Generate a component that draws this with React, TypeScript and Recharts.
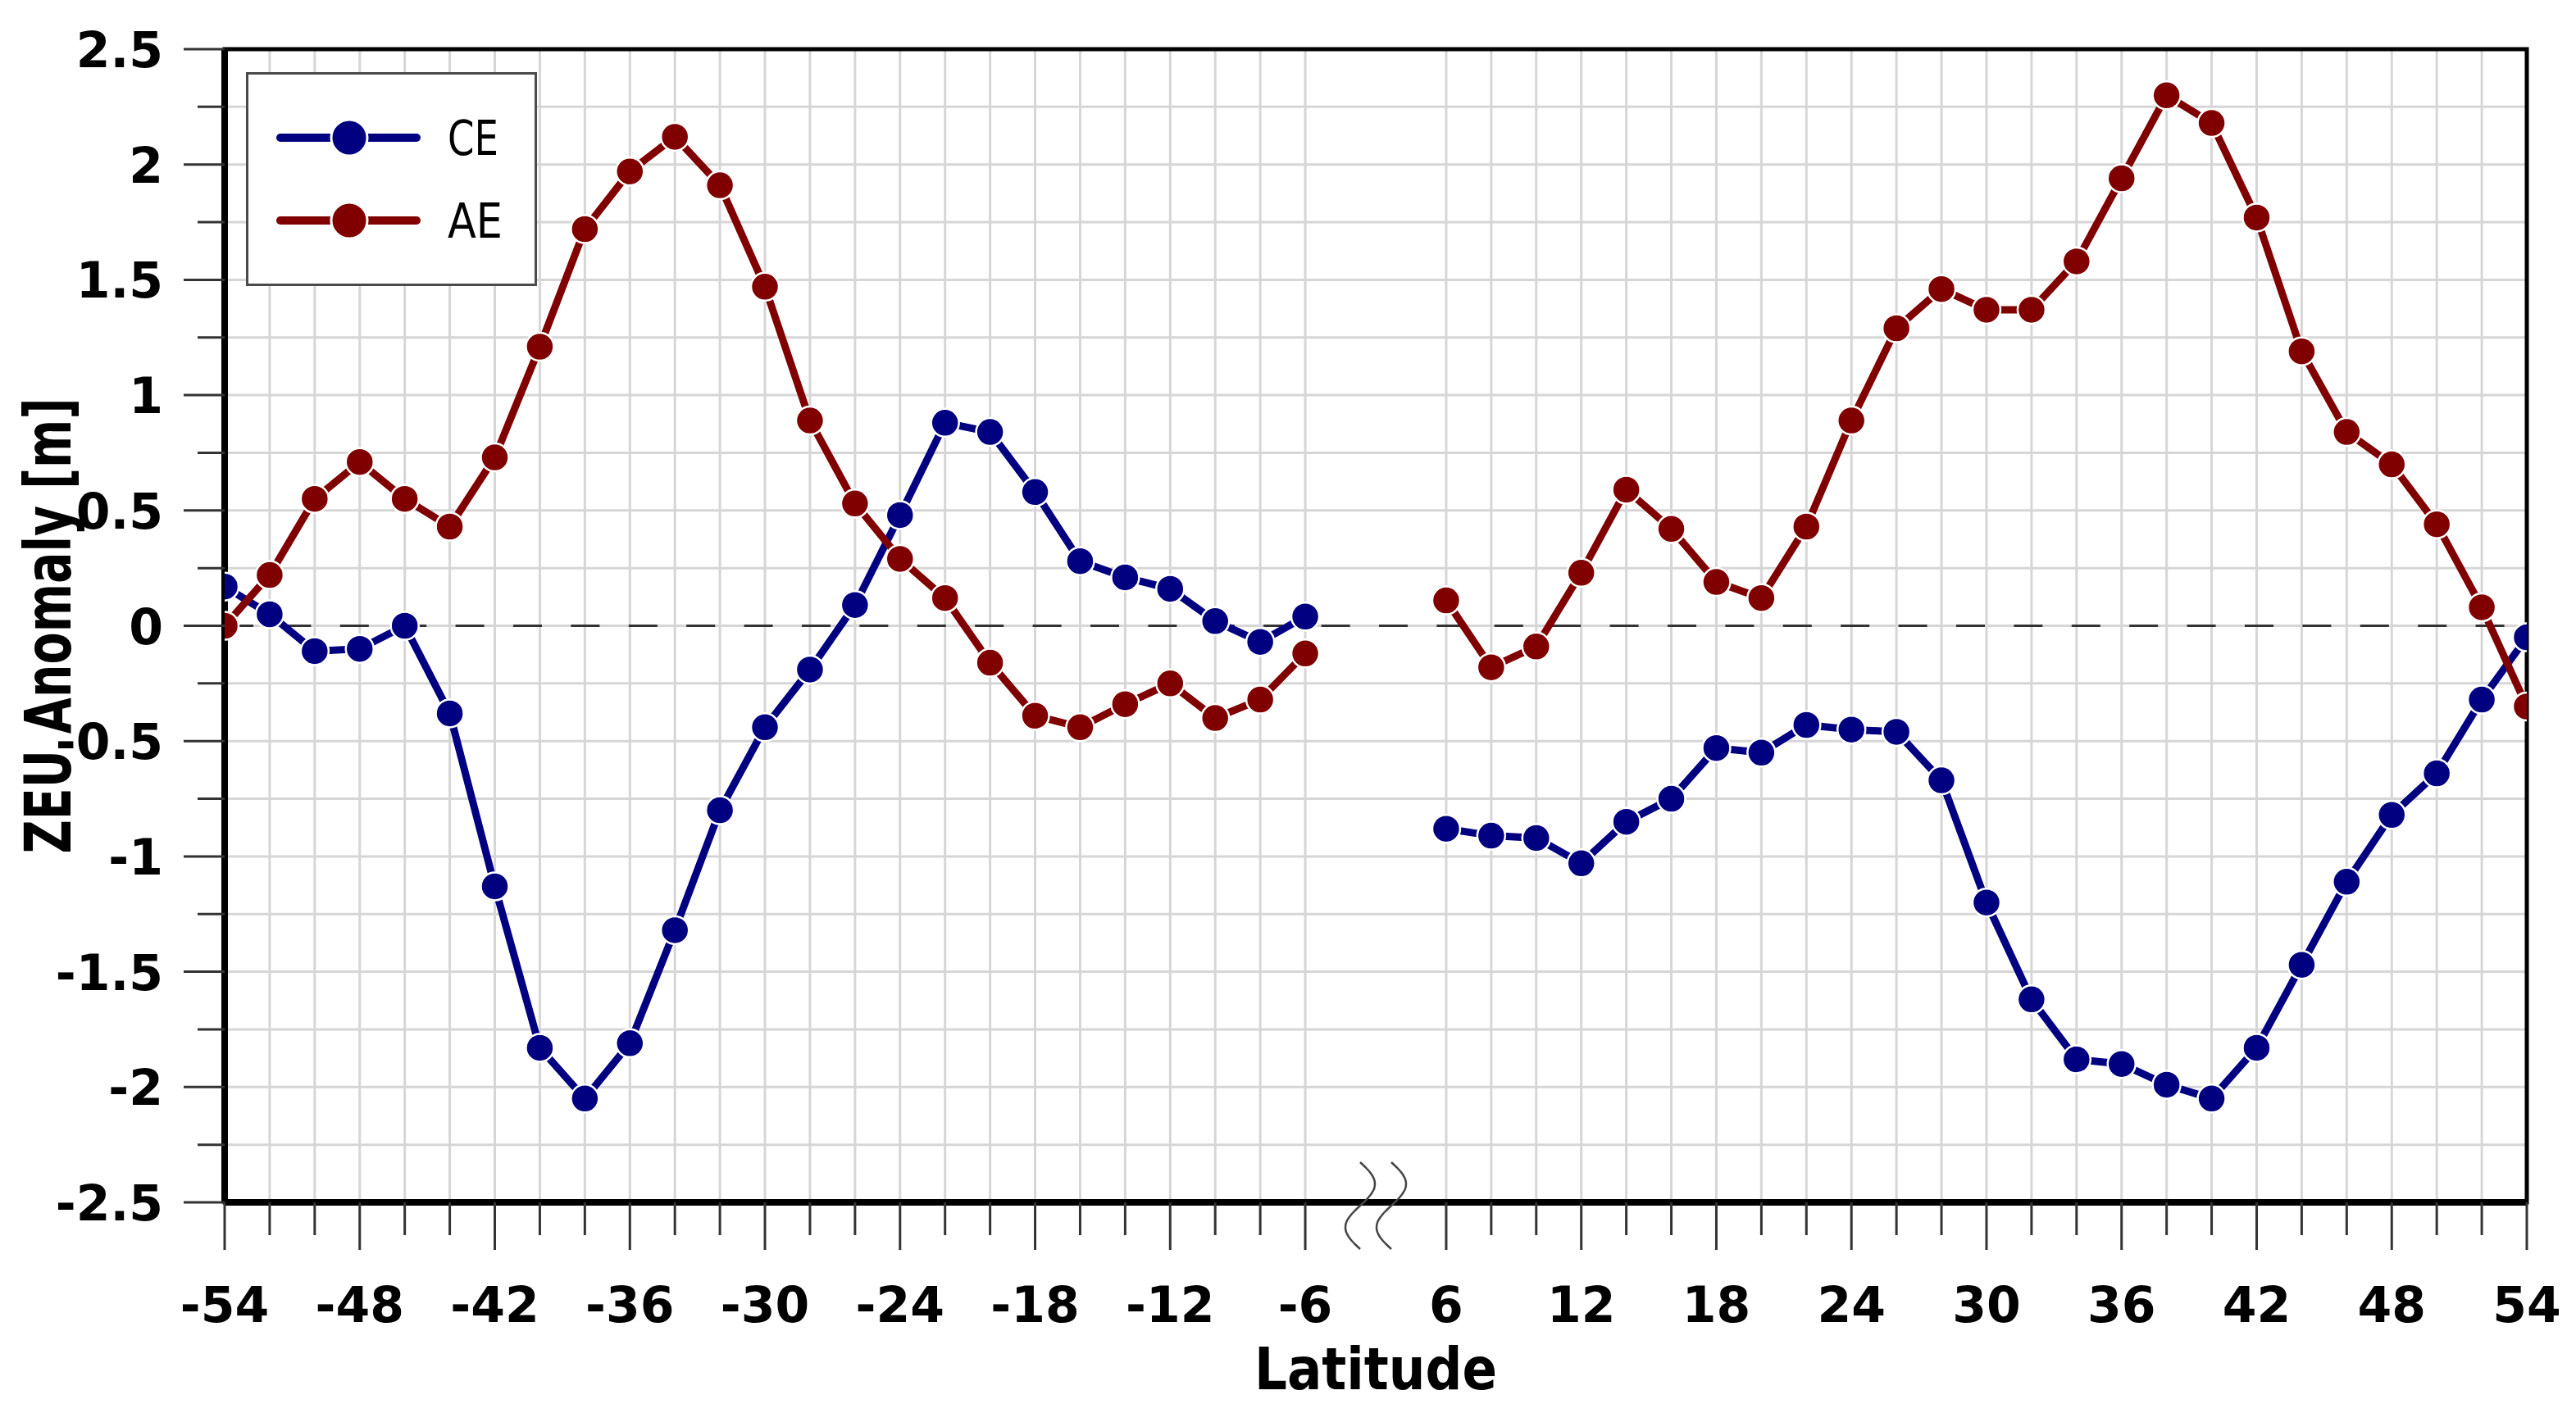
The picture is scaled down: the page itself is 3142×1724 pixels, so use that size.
import React from "react";
import {
  LineChart,
  Line,
  XAxis,
  YAxis,
  CartesianGrid,
  ReferenceLine,
  ReferenceArea,
  ReferenceDot,
  Label,
} from "recharts";

// latitudes, 2 degree steps, south and north of the axis break
const southLat = [-54, -52, -50, -48, -46, -44, -42, -40, -38, -36, -34, -32, -30, -28, -26, -24, -22, -20, -18, -16, -14, -12, -10, -8, -6];
const northLat = [6, 8, 10, 12, 14, 16, 18, 20, 22, 24, 26, 28, 30, 32, 34, 36, 38, 40, 42, 44, 46, 48, 50, 52, 54];

// ZEU anomaly [m]
const ceSouth = [0.17, 0.05, -0.11, -0.1, 0.0, -0.38, -1.13, -1.83, -2.05, -1.81, -1.32, -0.8, -0.44, -0.19, 0.09, 0.48, 0.88, 0.84, 0.58, 0.28, 0.21, 0.16, 0.02, -0.07, 0.04];
const aeSouth = [0.0, 0.22, 0.55, 0.71, 0.55, 0.43, 0.73, 1.21, 1.72, 1.97, 2.12, 1.91, 1.47, 0.89, 0.53, 0.29, 0.12, -0.16, -0.39, -0.44, -0.34, -0.25, -0.4, -0.32, -0.12];
const ceNorth = [-0.88, -0.91, -0.92, -1.03, -0.85, -0.75, -0.53, -0.55, -0.43, -0.45, -0.46, -0.67, -1.2, -1.62, -1.88, -1.9, -1.99, -2.05, -1.83, -1.47, -1.11, -0.82, -0.64, -0.32, -0.05];
const aeNorth = [0.11, -0.18, -0.09, 0.23, 0.59, 0.42, 0.19, 0.12, 0.43, 0.89, 1.29, 1.46, 1.37, 1.37, 1.58, 1.94, 2.3, 2.18, 1.77, 1.19, 0.84, 0.7, 0.44, 0.08, -0.35];

const yTicks = [2.5, 2.25, 2, 1.75, 1.5, 1.25, 1, 0.75, 0.5, 0.25, 0, -0.25, -0.5, -0.75, -1, -1.25, -1.5, -1.75, -2, -2.25, -2.5];

const CE_COLOR = "#000080";
const AE_COLOR = "#800000";
const FONT = "'DejaVu Sans', sans-serif";

// the break between -6 and 6 is drawn about 6.26 degrees wide
const GAP = 6.26;
const NORTH_SHIFT = 12 - GAP;
const toPos = (lat: number) => (lat < 0 ? lat : lat - NORTH_SHIFT);
const toLat = (pos: number) => Math.round(pos <= -6 ? pos : pos + NORTH_SHIFT);
const X_MIN = toPos(-54);
const X_MAX = toPos(54);
const BREAK_POS = (toPos(-6) + toPos(6)) / 2;

const rows = [
  ...southLat.map((lat, i) => ({ pos: toPos(lat), ce: ceSouth[i], ae: aeSouth[i] })),
  { pos: BREAK_POS, ce: null, ae: null },
  ...northLat.map((lat, i) => ({ pos: toPos(lat), ce: ceNorth[i], ae: aeNorth[i] })),
];
const xTicks = [...southLat, ...northLat].map(toPos);

function XTick(props: any) {
  const { x, y, payload } = props;
  const lat = toLat(payload.value);
  const major = lat % 6 === 0;
  return (
    <g>
      <line x1={x} x2={x} y1={y} y2={y + (major ? 58 : 40)} stroke="#333" strokeWidth={3} />
      {major && (
        <text x={x} y={y + 146} textAnchor="middle" fontFamily={FONT} fontWeight="bold" fontSize={60} fill="#000">
          {lat}
        </text>
      )}
    </g>
  );
}

function YTick(props: any) {
  const { x, y, payload } = props;
  const v = payload.value;
  const major = Math.abs(v * 2 - Math.round(v * 2)) < 1e-6;
  return (
    <g>
      <line x1={x} x2={x - (major ? 50 : 33)} y1={y} y2={y} stroke="#333" strokeWidth={3} />
      {major && (
        <text x={x - 75} y={y + 22} textAnchor="end" fontFamily={FONT} fontWeight="bold" fontSize={60} fill="#000">
          {String(v)}
        </text>
      )}
    </g>
  );
}

function BreakMark(props: any) {
  const { cx, cy } = props;
  const wave = (dx: number) => {
    const pts: string[] = [];
    for (let t = -49; t <= 58; t += 2) {
      const px = dx - 19 + 18 * Math.sin((Math.PI * (t + 49)) / 53);
      pts.push(`${(cx + px).toFixed(1)},${(cy + t).toFixed(1)}`);
    }
    return pts.join(" ");
  };
  return (
    <g>
      <polyline points={wave(0)} fill="none" stroke="#444" strokeWidth={2.5} />
      <polyline points={wave(38)} fill="none" stroke="#444" strokeWidth={2.5} />
    </g>
  );
}

function LegendBox() {
  const entries = [
    { name: "CE", color: CE_COLOR, y: 77, len: 62 },
    { name: "AE", color: AE_COLOR, y: 178, len: 67 },
  ];
  return (
    <div
      style={{
        position: "absolute",
        left: 292,
        top: 80,
        width: 355,
        height: 261,
        boxSizing: "border-box",
        border: "3px solid #4a4a4a",
        background: "#fff",
      }}
    >
      <svg width={349} height={255} style={{ display: "block" }}>
        {entries.map((e) => (
          <g key={e.name}>
            <line x1={39} x2={205} y1={e.y} y2={e.y} stroke={e.color} strokeWidth={10} strokeLinecap="round" />
            <circle cx={123} cy={e.y} r={22} fill={e.color} stroke="#fff" strokeWidth={3} />
            <text
              x={243}
              y={e.y + 21}
              fontFamily={FONT}
              fontSize={58}
              fill="#000"
              textLength={e.len}
              lengthAdjust="spacingAndGlyphs"
            >
              {e.name}
            </text>
          </g>
        ))}
      </svg>
    </div>
  );
}

export default function App() {
  return (
    <div style={{ position: "relative", width: 3126, height: 1708, background: "#fff" }}>
      <LineChart width={3126} height={1708} data={rows} margin={{ top: 52, right: 52, bottom: 0, left: 0 }}>
        <CartesianGrid stroke="#d6d6d6" strokeWidth={3} />
        <XAxis
          type="number"
          dataKey="pos"
          domain={[X_MIN, X_MAX]}
          allowDataOverflow
          ticks={xTicks}
          interval={0}
          tick={<XTick />}
          tickLine={false}
          tickSize={0}
          tickMargin={0}
          height={249}
          axisLine={{ stroke: "#000", strokeWidth: 8 }}
        >
          <Label
            content={(p: any) => {
              const vb = p.viewBox;
              return (
                <text
                  x={vb.x + vb.width / 2}
                  y={vb.y + 228}
                  textAnchor="middle"
                  fontFamily={FONT}
                  fontWeight="bold"
                  fontSize={72}
                  textLength={296}
                  lengthAdjust="spacingAndGlyphs"
                  fill="#000"
                >
                  Latitude
                </text>
              );
            }}
          />
        </XAxis>
        <YAxis
          type="number"
          domain={[-2.5, 2.5]}
          allowDataOverflow
          ticks={yTicks}
          interval={0}
          tick={<YTick />}
          tickLine={false}
          tickSize={0}
          tickMargin={0}
          width={266}
          axisLine={{ stroke: "#000", strokeWidth: 8 }}
        >
          <Label
            content={(p: any) => {
              const vb = p.viewBox;
              const bx = vb.x + 78;
              const cy = vb.y + vb.height / 2;
              return (
                <text
                  x={bx}
                  y={cy}
                  transform={`rotate(-90 ${bx} ${cy})`}
                  textAnchor="middle"
                  fontFamily={FONT}
                  fontWeight="bold"
                  fontSize={78}
                  textLength={556}
                  lengthAdjust="spacingAndGlyphs"
                  fill="#000"
                >
                  ZEU Anomaly [m]
                </text>
              );
            }}
          />
        </YAxis>
        <ReferenceArea
          x1={X_MIN}
          x2={X_MAX}
          y1={-2.5}
          y2={2.5}
          fill="none"
          fillOpacity={0}
          stroke="#000"
          strokeWidth={5}
          ifOverflow="visible"
        />
        <ReferenceLine y={0} stroke="#333" strokeWidth={3} strokeDasharray="35 35.4" />
        <ReferenceDot x={BREAK_POS} y={-2.5} ifOverflow="visible" shape={(p: any) => <BreakMark {...p} />} />
        <Line
          dataKey="ce"
          stroke={CE_COLOR}
          strokeWidth={9}
          dot={{ r: 17, fill: CE_COLOR, stroke: "#fff", strokeWidth: 2.5 }}
          activeDot={false}
          isAnimationActive={false}
        />
        <Line
          dataKey="ae"
          stroke={AE_COLOR}
          strokeWidth={9}
          dot={{ r: 17, fill: AE_COLOR, stroke: "#fff", strokeWidth: 2.5 }}
          activeDot={false}
          isAnimationActive={false}
        />
      </LineChart>
      <LegendBox />
    </div>
  );
}
